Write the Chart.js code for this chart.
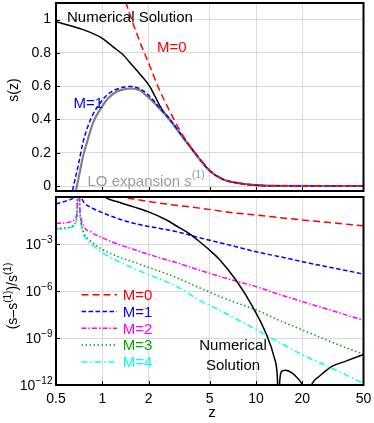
<!DOCTYPE html>
<html>
<head>
<meta charset="utf-8">
<script src="https://cdn.jsdelivr.net/npm/chart.js@4.4.1/dist/chart.umd.min.js"></script>
<style>
  html, body { margin:0; padding:0; background:#fff; }
  #wrap { position:relative; width:374px; height:423px; overflow:hidden; }
  #wrap canvas { position:absolute; left:0; }
  #topChart { top:0; }
  #botChart { top:194px; }
</style>
</head>
<body>
<div id="wrap">
  <canvas id="topChart" width="374" height="196"></canvas>
  <canvas id="botChart" width="374" height="229"></canvas>
</div>
<script>
// ── Axis ticks ───────────────────────────────────────
const xTicks      = [0.5, 1, 2, 5, 10, 20, 50];
const xTickLabels = ['0.5', '1', '2', '5', '10', '20', '50'];
const sTicks      = [0, 0.2, 0.4, 0.6, 0.8, 1];
const sTickLabels = ['0', '0.2', '0.4', '0.6', '0.8', '1'];
const errTicks    = [1e-12, 1e-9, 1e-6, 1e-3];
const errTickExp  = ['\u221212', '\u22129', '\u22126', '\u22123'];
const legendLabels = ['M=0', 'M=1', 'M=2', 'M=3', 'M=4'];

// ── Top panel: s(z) ──────────────────────────────────
const zNumTop = [0.5, 0.75, 1.0, 1.2, 1.36, 1.5, 1.75, 2.03, 2.2, 2.36, 2.47, 2.73, 3.17, 3.69, 4.3, 5.0, 6.07, 7.8, 10, 15, 50];
const sNumTop = [0.987, 0.94, 0.888, 0.83, 0.79, 0.745, 0.675, 0.60, 0.54, 0.485, 0.455, 0.405, 0.322, 0.241, 0.161, 0.09, 0.04, 0.016, 0.005, 0.001, 0];

const zLOTop = [0.6, 0.65, 0.684, 0.72, 0.75, 0.8, 0.87, 1.0, 1.1, 1.23, 1.4, 1.55, 1.75, 1.93, 2.15, 2.36, 2.73, 3.17, 3.69, 4.3, 5.0, 6.07, 7.8, 10, 15, 50];
const sLOTop = [-0.25, -0.10, 0, 0.10, 0.18, 0.27, 0.38, 0.48, 0.53, 0.565, 0.582, 0.586, 0.575, 0.545, 0.505, 0.465, 0.40, 0.32, 0.24, 0.16, 0.09, 0.04, 0.016, 0.005, 0.001, 0];

const zM1Top = [0.6, 0.65, 0.7, 0.748, 0.8, 0.869, 1.0, 1.1, 1.23, 1.4, 1.55, 1.75, 1.93, 2.15, 2.36, 2.73, 3.17, 3.69, 4.3, 5.0, 6.07, 7.8, 10, 15, 50];
const sM1Top = [-0.15, 0, 0.13, 0.26, 0.35, 0.43, 0.515, 0.555, 0.58, 0.595, 0.598, 0.585, 0.56, 0.515, 0.47, 0.405, 0.325, 0.243, 0.162, 0.092, 0.041, 0.016, 0.005, 0.001, 0];

const zM0Top = [1.35, 1.5, 1.75, 2.0, 2.36, 2.73, 3.17, 3.69, 4.3, 5.1, 6.07, 7.8, 10, 15, 50];
const sM0Top = [1.17, 1.04, 0.87, 0.74, 0.575, 0.455, 0.34, 0.245, 0.165, 0.088, 0.042, 0.016, 0.005, 0.001, 0];

// ── Bottom panel: (s - s1)/s1 ────────────────────────
const zErr = [0.5, 0.6, 0.65, 0.67, 0.685, 0.70, 0.715, 0.73, 0.76, 0.85, 1.0, 1.3, 1.6, 2.0, 2.6, 3.3, 4.3, 5.5, 7, 10, 14, 20, 30, 50];
const errM0 = [10, 20, 50, 100, 1000, 1000, 100, 40, 20, 8, 2.5, 1.07, 0.74, 0.52, 0.355, 0.27, 0.195, 0.14, 0.1, 0.071, 0.049, 0.034, 0.0234, 0.0145];
const errM1 = [0.355, 0.63, 0.95, 2, 30, 30, 2, 1.0, 0.45, 0.21, 0.1, 0.038, 0.021, 0.0132, 0.0085, 0.005, 0.0025, 0.00138, 7.8e-4, 3.2e-4, 1.6e-4, 7.4e-5, 3.3e-5, 1.2e-5];
const errM2 = [0.0209, 0.024, 0.0316, 0.0447, 0.126, 100, 0.2, 0.04, 0.0126, 0.0056, 0.0025, 8.9e-4, 4.5e-4, 2.2e-4, 1e-4, 5e-5, 2.1e-5, 1e-5, 5e-6, 1.9e-6, 6.3e-7, 2.1e-7, 6.3e-8, 1.35e-8];
const errM3 = [0.01, 0.0112, 0.0158, 0.025, 0.079, 100, 0.126, 0.02, 0.005, 0.0014, 4.5e-4, 1.4e-4, 7.1e-5, 3.2e-5, 1.3e-5, 5e-6, 1.6e-6, 5.6e-7, 2.2e-7, 6.3e-8, 1.4e-8, 3.3e-9, 6.3e-10, 8.9e-11];
const errM4 = [0.0089, 0.01, 0.014, 0.0224, 0.071, 100, 0.112, 0.0158, 0.0035, 1e-3, 2.8e-4, 7.1e-5, 2.8e-5, 1.1e-5, 4e-6, 1.26e-6, 2.5e-7, 7.9e-8, 2.2e-8, 3.5e-9, 5.6e-10, 8.5e-11, 1.4e-11, 1.26e-12];

const zNumErr = [0.5, 0.69, 0.85, 1.0, 1.3, 1.6, 2.0, 2.6, 3.1, 3.7, 4.3, 5.0, 5.8, 7.4, 9.5, 11.6, 13.1, 13.7, 14.0, 14.3, 14.6, 15.5, 17.3, 19.0, 20.5, 21.5, 22.5, 24.0, 25.7, 28, 31.3, 38, 50];
const errNum  = [31.6, 1000, 10, 1.26, 0.45, 0.234, 0.112, 0.0355, 0.0126, 0.0045, 0.0014, 4e-4, 1e-4, 5e-6, 1e-7, 2e-9, 6.3e-11, 6.3e-12, 1e-13, 2.5e-12, 7.1e-12, 8.9e-12, 5.6e-12, 2.2e-12, 7.9e-13, 5e-13, 7.9e-13, 2e-12, 3.5e-12, 7.1e-12, 1.6e-11, 3.2e-11, 8.9e-11];

// ── Styles ───────────────────────────────────────────
const FONT = '"Liberation Sans", Arial, Helvetica, sans-serif';
const GRID = '#dadada';
const COLORS = ['#ff0000', '#0000ff', '#ff00ff', '#00a800', '#00ffff'];
const DASHES = [[7, 4], [4.5, 2.5], [5, 2, 1.5, 2], [1.5, 2.5], [6, 3, 1.5, 3]];
const GRAY_LINE = '#808080';
const GRAY_TEXT = '#9a9a9a';

Chart.defaults.font.family = FONT;
Chart.defaults.color = '#000';

function series(xs, ys, color, dash, width) {
    return {
        data: xs.map((x, i) => ({ x, y: ys[i] })),
        borderColor: color, borderDash: dash || [], borderWidth: width || 1.5,
        pointRadius: 0, fill: false, cubicInterpolationMode: 'monotone'
    };
}

function fixY(w) { return s => { s.width = w; s.paddingTop = 0; s.paddingBottom = 0; }; }
function fixX(h) { return s => { s.height = h; s.paddingLeft = 0; s.paddingRight = 0; }; }
function setTicks(vals) { return s => { s.ticks = vals.map(v => ({ value: v })); }; }

function xScale(showLabels, h) {
    return {
        type: 'logarithmic', min: 0.5, max: 50,
        afterBuildTicks: setTicks(xTicks), afterFit: fixX(h),
        grid: { color: GRID, drawTicks: false }, border: { display: false },
        ticks: { display: showLabels, autoSkip: false, maxRotation: 0, padding: 6,
                 font: { size: 14 }, color: '#000', callback: (v, i) => xTickLabels[i] }
    };
}

// ── Drawing helpers ─────────────────────────────────
function font(size, italic) { return (italic ? 'italic ' : '') + size + 'px ' + FONT; }

// parts: [text, kind] kind: '' | 'i' | 'sup'
function richWidth(ctx, parts, size) {
    let w = 0;
    parts.forEach(([t, k]) => {
        ctx.font = font(k === 'sup' ? size * 0.72 : size, k === 'i');
        w += ctx.measureText(t).width;
    });
    return w;
}
function drawRich(ctx, parts, x, y, size, color, raise) {
    ctx.fillStyle = color;
    ctx.textBaseline = 'alphabetic';
    ctx.textAlign = 'left';
    let cx = x;
    parts.forEach(([t, k]) => {
        ctx.font = font(k === 'sup' ? size * 0.72 : size, k === 'i');
        ctx.fillText(t, cx, k === 'sup' ? y - raise : y);
        cx += ctx.measureText(t).width;
    });
}
function drawRotated(ctx, parts, bx, cy, size, raise) {
    ctx.save();
    ctx.translate(bx, cy);
    ctx.rotate(-Math.PI / 2);
    drawRich(ctx, parts, -richWidth(ctx, parts, size) / 2, 0, size, '#000', raise);
    ctx.restore();
}

function drawFrame(chart, yVals) {
    const { ctx, chartArea: a, scales } = chart;
    ctx.save();
    ctx.strokeStyle = '#000';
    ctx.lineWidth = 1;
    ctx.beginPath();
    xTicks.slice(1, -1).forEach(v => {
        const px = Math.round(scales.x.getPixelForValue(v)) + 0.5;
        ctx.moveTo(px, a.bottom); ctx.lineTo(px, a.bottom - 4);
    });
    yVals.forEach(v => {
        const py = Math.round(scales.y.getPixelForValue(v)) + 0.5;
        ctx.moveTo(a.left, py); ctx.lineTo(a.left + 4, py);
    });
    ctx.stroke();
    ctx.lineWidth = 2;
    ctx.strokeRect(a.left, a.top, a.right - a.left, a.bottom - a.top);
    ctx.restore();
}

// ── TOP CHART ───────────────────────────────────────
const topDecor = {
    id: 'topDecor',
    afterDraw(chart) {
        const ctx = chart.ctx;
        drawFrame(chart, sTicks);
        ctx.save();
        drawRich(ctx, [['Numerical Solution', '']], 67, 22, 15, '#000', 0);
        drawRich(ctx, [['M=0', '']], 157, 52, 15, COLORS[0], 0);
        drawRich(ctx, [['M=1', '']], 73.5, 108, 15, COLORS[1], 0);
        drawRich(ctx, [['LO expansion ', ''], ['s', 'i'], ['(1)', 'sup']], 87.5, 186, 15, GRAY_TEXT, 8);
        drawRotated(ctx, [['s(z)', '']], 18, 90, 14, 0);
        ctx.restore();
    }
};

new Chart(document.getElementById('topChart'), {
    type: 'line',
    data: {
        datasets: [
            series(zM0Top, sM0Top, COLORS[0], DASHES[0], 1.5),
            series(zM1Top, sM1Top, COLORS[1], DASHES[1], 1.5),
            series(zLOTop, sLOTop, GRAY_LINE, [], 2.2),
            series(zNumTop, sNumTop, '#000', [], 1.5)
        ]
    },
    options: {
        responsive: false, animation: false, parsing: true,
        layout: { padding: { top: 3, right: 10.5, left: 0, bottom: 0 } },
        plugins: { legend: { display: false }, tooltip: { enabled: false } },
        scales: {
            x: xScale(false, 5),
            y: {
                type: 'linear', min: -0.03, max: 1.1,
                afterBuildTicks: setTicks(sTicks), afterFit: fixY(56),
                grid: { color: GRID, drawTicks: false }, border: { display: false },
                ticks: { padding: 5, font: { size: 14 }, color: '#000',
                         callback: (v, i) => sTickLabels[i] }
            }
        }
    },
    plugins: [topDecor]
});

// ── BOTTOM CHART ────────────────────────────────────
const botDecor = {
    id: 'botDecor',
    afterDraw(chart) {
        const ctx = chart.ctx;
        const y = chart.scales.y;
        drawFrame(chart, errTicks.slice(1));
        ctx.save();
        // y tick labels 10^n
        errTicks.forEach((v, i) => {
            const py = y.getPixelForValue(v) + 5;
            const parts = [['10', ''], [errTickExp[i], 'sup']];
            drawRich(ctx, parts, 52.5 - richWidth(ctx, parts, 14), py, 14, '#000', 6);
        });
        // legend
        legendLabels.forEach((lab, i) => {
            const cy = 100.7 + i * 16.8;
            ctx.save();
            ctx.strokeStyle = COLORS[i];
            ctx.lineWidth = 1.5;
            ctx.setLineDash(DASHES[i]);
            ctx.beginPath();
            ctx.moveTo(81.5, cy); ctx.lineTo(117, cy);
            ctx.stroke();
            ctx.restore();
            drawRich(ctx, [[lab, '']], 122.7, cy + 5.3, 15, COLORS[i], 0);
        });
        ctx.font = font(15);
        ctx.fillStyle = '#000';
        ctx.textAlign = 'center';
        ctx.textBaseline = 'alphabetic';
        ctx.fillText('Numerical', 233, 156);
        ctx.fillText('Solution', 233, 176);
        ctx.fillText('z', 212, 222.5);
        drawRotated(ctx, [['(s\u2013s', ''], ['(1)', 'sup'], [')/s', ''], ['(1)', 'sup']], 17, 102, 14, 6);
        ctx.restore();
    }
};

new Chart(document.getElementById('botChart'), {
    type: 'line',
    data: {
        datasets: [
            series(zNumErr, errNum, '#000', [], 1.5),
            series(zErr, errM0, COLORS[0], DASHES[0], 1.5),
            series(zErr, errM1, COLORS[1], DASHES[1], 1.5),
            series(zErr, errM2, COLORS[2], DASHES[2], 1.5),
            series(zErr, errM3, COLORS[3], DASHES[3], 1.5),
            series(zErr, errM4, COLORS[4], DASHES[4], 1.5)
        ]
    },
    options: {
        responsive: false, animation: false,
        layout: { padding: { top: 3, right: 10.5, left: 0, bottom: 0 } },
        plugins: { legend: { display: false }, tooltip: { enabled: false } },
        scales: {
            x: xScale(true, 38),
            y: {
                type: 'logarithmic', min: 1e-12, max: 1,
                afterBuildTicks: setTicks(errTicks), afterFit: fixY(56),
                grid: { color: GRID, drawTicks: false }, border: { display: false },
                ticks: { display: false }
            }
        }
    },
    plugins: [botDecor]
});
</script>
</body>
</html>
